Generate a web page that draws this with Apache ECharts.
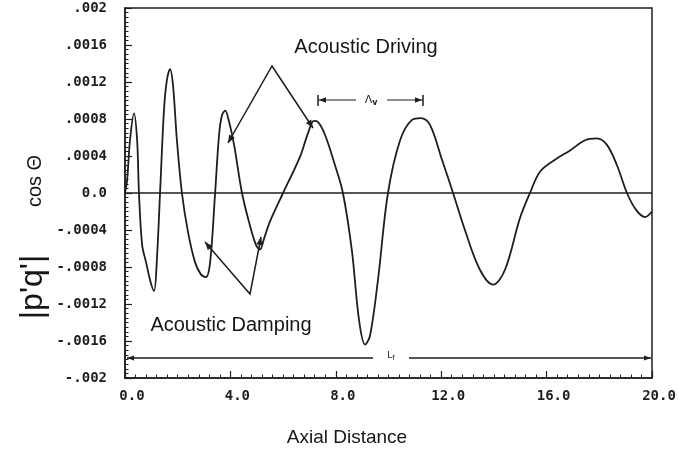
<!DOCTYPE html>
<html>
<head>
<meta charset="utf-8">
<script src="https://cdn.jsdelivr.net/npm/echarts@6/dist/echarts.min.js"></script>
<style>html,body{margin:0;padding:0;background:#fff;}#c{width:678px;height:453px;}</style>
</head>
<body>
<div id="c"></div>
<script>
// Axial distance values
const xs = [0, 0.08, 0.19, 0.34, 0.46, 0.53, 0.65, 0.80, 0.95, 1.10, 1.21, 1.33, 1.48, 1.59, 1.71, 1.82, 1.97, 2.16,
  2.39, 2.66, 2.88, 3.07, 3.23, 3.42, 3.57, 3.68, 3.80, 3.95, 4.14, 4.44, 4.74, 4.97, 5.12, 5.28, 5.50, 6.00,
  6.64, 6.95, 7.17, 7.32, 7.59, 7.97, 8.27, 8.61, 8.88, 9.11, 9.30, 9.60, 9.98, 10.44, 10.89, 11.23, 11.57, 12.03,
  12.45, 12.90, 13.47, 13.97, 14.42, 14.99, 15.37, 15.75, 16.32, 16.89, 17.46, 17.91, 18.29, 18.67, 19.05, 19.39,
  19.73, 20.0];
// |p'q'| cos(theta) values
const ys = [0, 0.00014, 0.00057, 0.00086, 0.00057, 0, -0.00056, -0.00075, -0.00094, -0.00106, -0.00072, 0, 0.0009,
  0.00122, 0.00134, 0.00117, 0.00057, 0, -0.00042, -0.00075, -0.00088, -0.00091, -0.00075, 0, 0.00063, 0.00084,
  0.00089, 0.00077, 0.00052, 0, -0.00035, -0.00056, -0.00061, -0.00049, -0.00031, 0, 0.00039, 0.00065, 0.00078,
  0.00077, 0.00063, 0.0003, 0, -0.00062, -0.00137, -0.00164, -0.00154, -0.00094, 0, 0.00057, 0.00079, 0.00081,
  0.00074, 0.00036, 0, -0.0004, -0.00083, -0.00099, -0.00083, -0.00027, 0, 0.00023, 0.00036, 0.00046, 0.00057,
  0.00059, 0.00052, 0.0003, 0, -0.00018, -0.00026, -0.0002];
const yTickLabels = ['-.002', '-.0016', '-.0012', '-.0008', '-.0004', '0.0', '.0004', '.0008', '.0012', '.0016', '.002'];
const xTickLabels = ['0.0', '4.0', '8.0', '12.0', '16.0', '20.0'];

const data = xs.map((x, i) => [x, ys[i]]);
const ink = '#1e1e1e';

function head(p0, p1, len, w) {
  len = len || 8; w = w || 3.2;
  const dx = p1[0] - p0[0], dy = p1[1] - p0[1];
  const L = Math.sqrt(dx * dx + dy * dy);
  const ux = dx / L, uy = dy / L, nx = -uy, ny = ux;
  const bx = p1[0] - ux * len, by = p1[1] - uy * len;
  return { type: 'polygon', shape: { points: [p1, [bx + nx * w, by + ny * w], [bx - nx * w, by - ny * w]] }, style: { fill: ink } };
}
function line(pts, lw) {
  return { type: 'polyline', shape: { points: pts }, style: { stroke: ink, lineWidth: lw || 1.5, fill: null } };
}

const graphics = [];
// Acoustic Driving arrows
graphics.push(line([[228, 143], [272, 66], [313, 128]]));
graphics.push(head([272, 66], [228, 143]));
graphics.push(head([272, 66], [313, 128]));
// Acoustic Damping arrows
graphics.push(line([[205, 242], [250, 294], [261, 237]]));
graphics.push(head([250, 294], [205, 242]));
graphics.push(head([250, 294], [261, 237]));
// lambda_v dimension
graphics.push(line([[318, 95], [318, 106]], 1.5));
graphics.push(line([[423, 95], [423, 106]], 1.5));
graphics.push(line([[318, 100], [356, 100]], 1.2));
graphics.push(line([[387, 100], [423, 100]], 1.2));
graphics.push(head([330, 100], [319, 100], 7, 2.8));
graphics.push(head([411, 100], [422, 100], 7, 2.8));
graphics.push({ type: 'text', x: 371, y: 100, style: { text: '{a|Λ}{b|v}', align: 'center', verticalAlign: 'middle',
  rich: { a: { fontSize: 11, fontFamily: 'DejaVu Sans', fill: ink }, b: { fontSize: 8, fontFamily: 'DejaVu Sans', fontWeight: 'bold', fill: ink, padding: [5, 0, 0, 0] } } } });
// L_f dimension
graphics.push(line([[127, 358], [373, 358]], 1.3));
graphics.push(line([[409, 358], [651, 358]], 1.3));
graphics.push(head([138, 358], [127, 358], 7, 2.6));
graphics.push(head([640, 358], [651, 358], 7, 2.6));
graphics.push({ type: 'text', x: 391, y: 356, style: { text: '{a|L}{b|f}', align: 'center', verticalAlign: 'middle',
  rich: { a: { fontSize: 9, fontFamily: 'DejaVu Sans', fill: ink }, b: { fontSize: 7, fontFamily: 'DejaVu Sans', fill: ink, padding: [4, 0, 0, 0] } } } });
// Text annotations
graphics.push({ type: 'text', x: 366, y: 47, style: { text: 'Acoustic Driving', align: 'center', verticalAlign: 'middle', fontSize: 20, fontFamily: 'Liberation Sans', fill: '#161616' } });
graphics.push({ type: 'text', x: 231, y: 325, style: { text: 'Acoustic Damping', align: 'center', verticalAlign: 'middle', fontSize: 20, fontFamily: 'Liberation Sans', fill: '#161616' } });
// Axis titles
graphics.push({ type: 'text', x: 33, y: 287, rotation: Math.PI / 2, style: { text: "|p'q'|", align: 'center', verticalAlign: 'middle', fontSize: 32, fontFamily: 'Liberation Sans', fill: '#161616' } });
graphics.push({ type: 'text', x: 35, y: 181, rotation: Math.PI / 2, style: { text: 'cos Θ', align: 'center', verticalAlign: 'middle', fontSize: 20, fontFamily: 'Liberation Sans', fill: '#161616' } });
graphics.push({ type: 'text', x: 347, y: 438, style: { text: 'Axial Distance', align: 'center', verticalAlign: 'middle', fontSize: 19, fontFamily: 'Liberation Sans', fill: '#161616' } });

const chart = echarts.init(document.getElementById('c'), null, { renderer: 'canvas' });
chart.setOption({
  animation: false,
  backgroundColor: '#fff',
  grid: { left: 125, right: 26, top: 8, bottom: 75, show: true, borderColor: ink, borderWidth: 1.5, backgroundColor: 'transparent',
    outerBoundsMode: 'none', containLabel: false },
  xAxis: {
    type: 'value', min: 0, max: 20, interval: 4,
    axisLine: { show: true, onZero: false, lineStyle: { color: ink, width: 1.5 } },
    axisTick: { show: true, inside: true, length: 7, lineStyle: { color: ink, width: 1.2 } },
    minorTick: { show: true, splitNumber: 10, length: 3.5, lineStyle: { color: ink, width: 1 } },
    splitLine: { show: false },
    axisLabel: { margin: 11, padding: [0, 0, 0, 14], fontFamily: 'DejaVu Sans Mono', fontWeight: 'bold', fontSize: 14, color: ink,
      formatter: v => xTickLabels[Math.round(v / 4)] }
  },
  yAxis: {
    type: 'value', min: -0.002, max: 0.002, interval: 0.0004,
    axisLine: { show: true, onZero: false, lineStyle: { color: ink, width: 1.5 } },
    axisTick: { show: true, inside: true, length: 7, lineStyle: { color: ink, width: 1.2 } },
    minorTick: { show: true, splitNumber: 8, length: 3.5, lineStyle: { color: ink, width: 1 } },
    splitLine: { show: false },
    axisLabel: { margin: 18, fontFamily: 'DejaVu Sans Mono', fontWeight: 'bold', fontSize: 14, color: ink,
      formatter: v => yTickLabels[Math.round((v + 0.002) / 0.0004)] }
  },
  series: [{
    type: 'line', data: data, smooth: 0.35, showSymbol: false, symbol: 'none',
    lineStyle: { color: ink, width: 1.8 },
    markLine: { silent: true, symbol: 'none', label: { show: false }, lineStyle: { color: ink, width: 1.5, type: 'solid' }, data: [{ yAxis: 0 }] }
  }],
  graphic: graphics
});
</script>
</body>
</html>
